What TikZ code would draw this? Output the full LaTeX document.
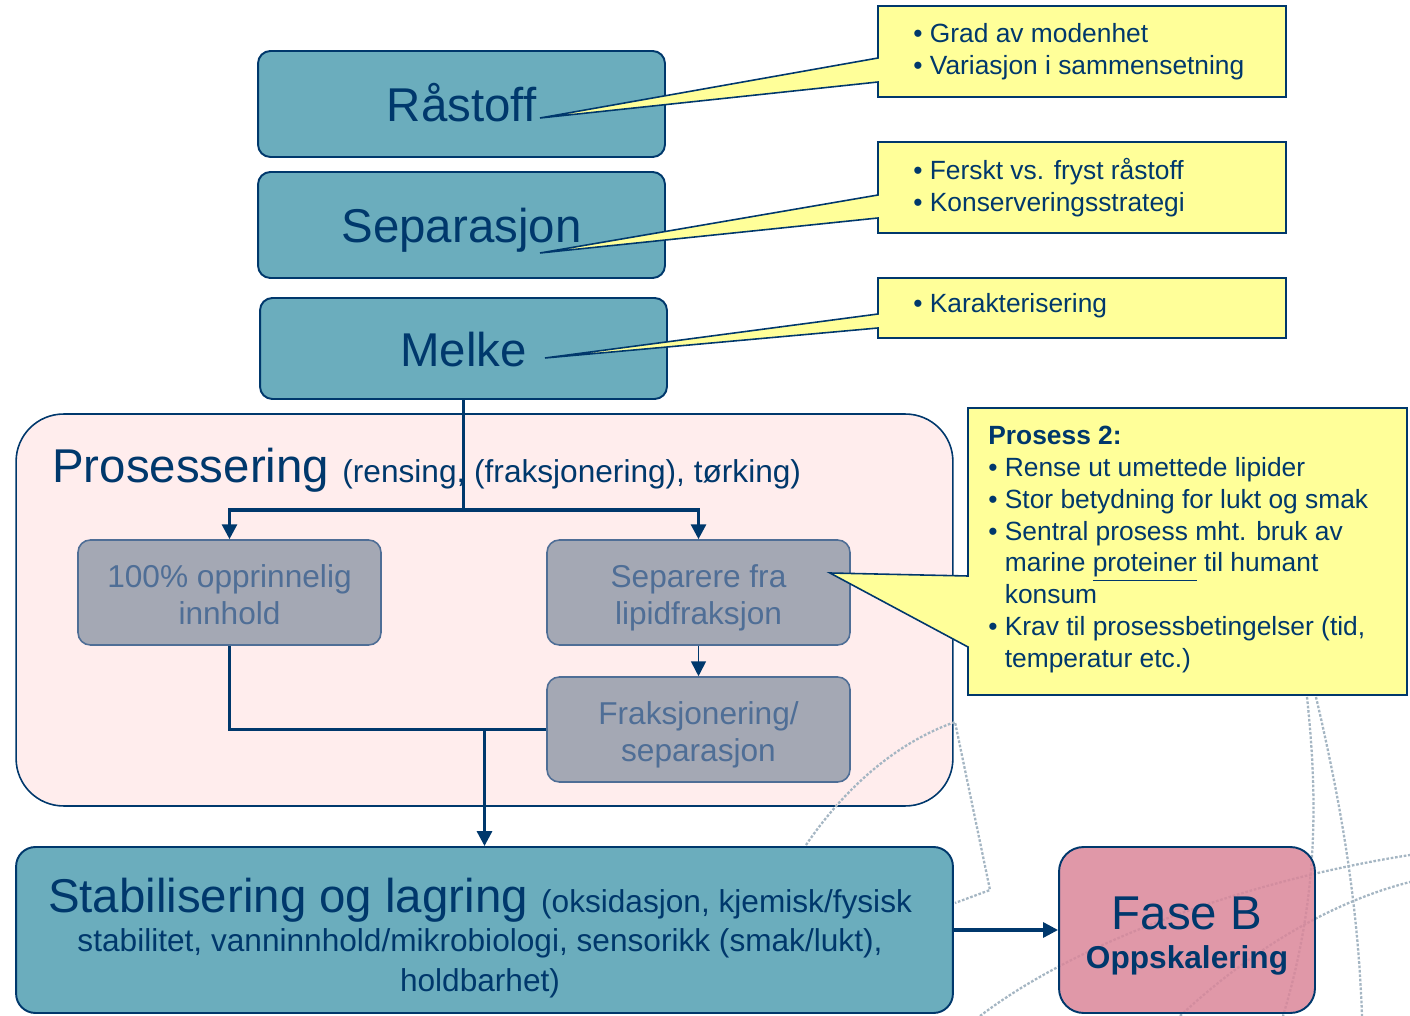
\documentclass[tikz,border=0pt]{standalone}
\usepackage{fontspec}
\setmainfont{Liberation Sans}
\usetikzlibrary{positioning,arrows.meta}

\definecolor{navy}{RGB}{0,56,108}
\definecolor{stagefill}{RGB}{107,173,189}
\definecolor{prosfill}{RGB}{255,237,237}
\definecolor{stepfill}{RGB}{164,168,180}
\definecolor{stepline}{RGB}{79,110,150}
\definecolor{notefill}{RGB}{255,255,153}
\definecolor{fasefill}{RGB}{219,134,153}
\definecolor{decoline}{RGB}{165,182,195}

\newcommand{\hugetxt}{\fontsize{27}{32}\selectfont}
\newcommand{\midtxt}{\fontsize{18}{22.7}\selectfont}
\newcommand{\notetxt}{\fontsize{15}{18.1}\selectfont}
\newcommand{\steptxt}[2]{\rule{0pt}{19pt}#1\\#2\vphantom{p}}

\begin{document}
\begin{tikzpicture}[x=0.02cm,y=-0.02cm,
	stage/.style={draw=navy,line width=1.1pt,fill=stagefill,rounded corners=7pt,text=navy,font=\hugetxt,text height=20pt,text depth=0pt},
	substep/.style={draw=stepline,line width=0.9pt,fill=stepfill,rounded corners=7pt,text=stepline,font=\fontsize{18}{21.5}\selectfont,align=center,minimum width=6.06cm,minimum height=2.1cm},
	note/.style={draw=navy,line width=0.9pt,fill=notefill},
	notetext/.style={text=navy,font=\notetxt,align=left,inner sep=0pt},
	link/.style={draw=navy,line width=1.8pt},
	flow/.style={link,-{Triangle[length=8.5pt,width=8.5pt]}},
	deco/.style={draw=decoline,line width=1.3pt,dash pattern=on 1.5pt off 1pt}]
\useasboundingbox (0,0) rectangle (1410,1016);
% background curves
\draw[deco] (980,1016) .. controls (1080,940) and (1250,880) .. (1410,855);
\draw[deco] (1180,1016) .. controls (1240,960) and (1320,905) .. (1410,882);
\draw[deco] (1307,697) .. controls (1318,800) and (1318,900) .. (1283,1016);
\draw[deco] (1316,697) .. controls (1340,800) and (1358,900) .. (1362,1016);
% main stages
\node[stage,minimum width=8.14cm,minimum height=2.12cm] (raastoff) at (461.5,104) {Råstoff};
\node[stage,minimum width=8.14cm,minimum height=2.12cm] (separasjon) at (461.5,225) {Separasjon};
\node[stage,minimum width=8.14cm,minimum height=2.02cm] (melke) at (463.5,348.5) {Melke};
% processing block
\node[draw=navy,line width=0.9pt,fill=prosfill,rounded corners=27pt,minimum width=18.74cm,minimum height=7.84cm] (prosessering) at (484.5,610) {};
\node[anchor=base west,text=navy,inner sep=0pt] (prostitle) at (52,483) {\hugetxt Prosessering {\midtxt(rensing, (fraksjonering), tørking)}};
\node[substep] (opprinnelig) at (229.5,592.5) {\steptxt{100\% opprinnelig}{innhold}};
\node[substep] (lipid) at (698.5,592.5) {\steptxt{Separere fra}{lipidfraksjon}};
\node[substep] (fraksjonering) at (698.5,729.5) {\steptxt{Fraksjonering/}{separasjon}};
\draw[deco] (806,845) .. controls (840,795) and (890,745) .. (955,722) -- (990,890) -- (955,903);
% storage and phase B
\node[stage,rounded corners=11pt,minimum width=18.74cm,minimum height=3.32cm] (stabilisering) at (484.5,930) {};
\node[text=navy,font=\midtxt,align=center] (stabtext) at (480,938) {{\hugetxt Stabilisering og lagring }(oksidasjon, kjemisk/fysisk\\stabilitet, vanninnhold/mikrobiologi, sensorikk (smak/lukt),\\holdbarhet)};
\node[stage,fill=fasefill,fill opacity=0.85,rounded corners=14pt,minimum width=5.12cm,minimum height=3.32cm] (fase) at (1187,930) {};
\node[text=navy,font=\midtxt,align=center] (fasetext) at (1187,936) {{\hugetxt Fase B}\\\textbf{Oppskalering}};
% connectors
\coordinate (split) at (463.5,510);
\coordinate (merge) at (stabilisering.north |- fraksjonering.west);
\draw[link] (melke.south) -- (split);
\draw[flow] (split) -| (opprinnelig.north);
\draw[flow] (split) -| (lipid.north);
\draw[flow,line width=1pt] (lipid) -- (fraksjonering);
\draw[link] (opprinnelig.south) |- (fraksjonering.west);
\draw[flow] (merge) -- (stabilisering.north);
\draw[flow] (stabilisering) -- (fase);
% callouts
\foreach \l/\t/\r/\b/\ya/\yb/\px/\py in {878/6/1286/97/58/82/540/118,878/142/1286/233/195/218/540/253,878/278/1286/338/314/328/545/358,968/408/1407/695/576/647/830/573}
	\filldraw[note] (\l,\t) -- (\r,\t) -- (\r,\b) -- (\l,\b) -- (\l,\yb) -- (\px,\py) -- (\l,\ya) -- cycle;
\node[notetext,anchor=west] (note1) at (913,51.5) {• Grad av modenhet\\• Variasjon i sammensetning};
\node[notetext,anchor=west] (note2) at (913,187.5) {• Ferskt vs. fryst råstoff\\• Konserveringsstrategi};
\node[notetext,anchor=west] (note3) at (913,306) {• Karakterisering};
\node[notetext,anchor=north west] (note4) at (988,426) {\textbf{Prosess 2:}\\• Rense ut umettede lipider\\• Stor betydning for lukt og smak\\• Sentral prosess mht. bruk av\\\phantom{•}\ marine \underline{proteiner} til humant\\\phantom{•}\ konsum\\• Krav til prosessbetingelser (tid,\\\phantom{•}\ temperatur etc.)};
\end{tikzpicture}
\end{document}
